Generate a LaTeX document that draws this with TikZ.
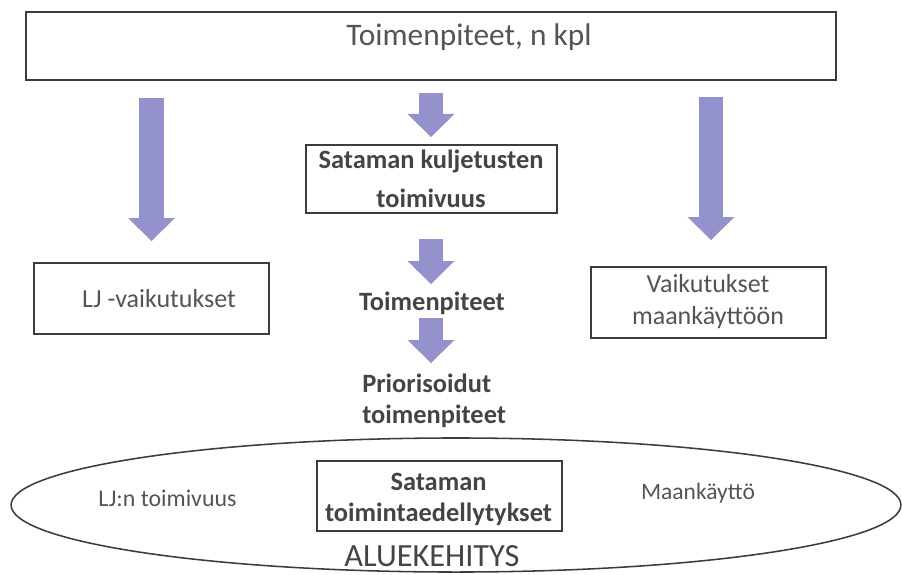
\documentclass[tikz,border=0pt]{standalone}
\usepackage{fontspec}
\setmainfont{Carlito}
\usepackage{tikz}
\usetikzlibrary{arrows.meta}
\definecolor{boxline}{RGB}{60,60,60}
\definecolor{txtgray}{RGB}{84,84,84}
\definecolor{btxtgray}{RGB}{68,68,68}
\definecolor{arrowfill}{RGB}{148,146,204}

\begin{document}
\begin{tikzpicture}[x=0.025cm, y=-0.025cm,
    box/.style={draw=boxline, line width=1.4pt, inner sep=0pt},
    txt/.style={text=txtgray, inner sep=0pt, align=center, font=\fontsize{18.5}{22.8}\selectfont},
    btxt/.style={text=btxtgray, inner sep=0pt, align=center, font=\fontsize{18.8}{22}\selectfont\bfseries},
    bigarrow/.style={draw=arrowfill, line width=0.6cm, -{Triangle[width=1.175cm, length=0.575cm, line width=0pt]}}]
    \useasboundingbox (0,0) rectangle (902,574);
    % boxes
    \node[box, minimum width=20.25cm, minimum height=1.7cm] (top) at (431,46) {};
    \node[txt, font=\fontsize{22.3}{26}\selectfont] (toptxt) at (469,37) {Toimenpiteet, n kpl};
    \node[box, minimum width=5.875cm, minimum height=1.775cm] (lj) at (151.5,298.5) {};
    \node[txt] (ljtxt) at (159,299) {LJ -vaikutukset};
    \node[box, minimum width=6.275cm, minimum height=1.7cm] (kulj) at (431.5,179) {};
    \node[btxt, font=\fontsize{18.8}{27.7}\selectfont\bfseries] (kuljtxt) at (431,179) {Sataman kuljetusten\\toimivuus};
    \node[box, minimum width=5.875cm, minimum height=1.775cm] (maa) at (708.5,302.5) {};
    \node[txt] (maatxt) at (708,302) {Vaikutukset\\maankäyttöön};
    \node[btxt] (toim) at (432,303) {Toimenpiteet};
    \node[btxt, align=left, anchor=west] (prio) at (362,401) {Priorisoidut\\toimenpiteet};
    % aluekehitys
    \draw[boxline, line width=1.1pt] (456,505) ellipse [x radius=11.12cm, y radius=1.675cm];
    \node[box, minimum width=6.125cm, minimum height=1.75cm] (sat) at (439.5,496) {};
    \node[btxt] (sattxt) at (438.5,499) {Sataman\\toimintaedellytykset};
    \node[txt, font=\fontsize{17}{20}\selectfont] (ljn) at (167.5,498) {LJ:n toimivuus};
    \node[txt, font=\fontsize{16.7}{20}\selectfont] (maank) at (698,493) {Maankäyttö};
    \node[txt, text=btxtgray, font=\fontsize{23}{26}\selectfont] (alue) at (432,556) {ALUEKEHITYS};
    % arrows
    \coordinate (a1) at (151.5,98);  \coordinate (b1) at (151.5,241);
    \coordinate (a2) at (431,93);    \coordinate (b2) at (431,137);
    \coordinate (a3) at (431,239);   \coordinate (b3) at (431,284);
    \coordinate (a4) at (431,318);   \coordinate (b4) at (431,363);
    \coordinate (a5) at (711,97);    \coordinate (b5) at (711,240);
    \foreach \i in {1,...,5}
        \draw[bigarrow] (a\i) -- (b\i);
\end{tikzpicture}
\end{document}
